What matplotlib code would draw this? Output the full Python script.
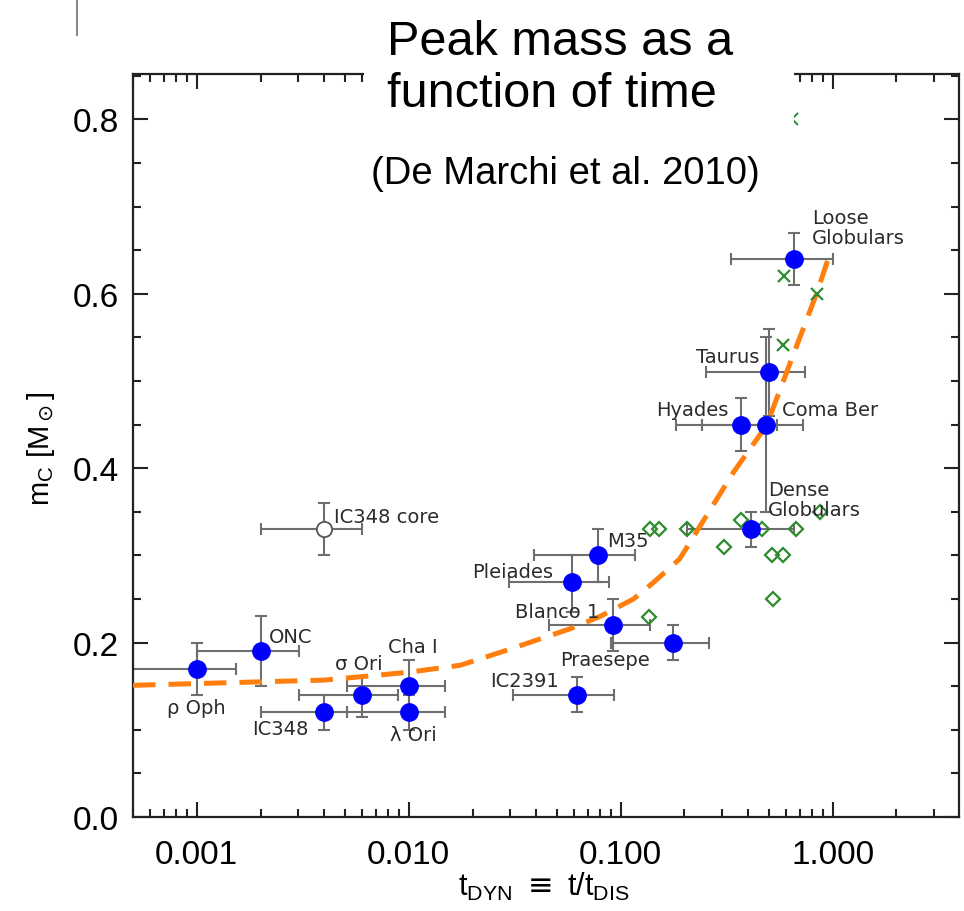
import matplotlib
matplotlib.use('Agg')
import matplotlib.pyplot as plt
import numpy as np
from matplotlib.ticker import LogLocator, MultipleLocator, FixedLocator, NullFormatter, FuncFormatter
from matplotlib.patches import Rectangle
from matplotlib.lines import Line2D

# ---------------- data ----------------
cluster_names = ['rho Oph', 'ONC', 'IC348', 'sigma Ori', 'Cha I', 'lambda Ori', 'IC2391',
                 'Pleiades', 'M35', 'Blanco 1', 'Praesepe', 'Hyades', 'Coma Ber', 'Taurus',
                 'Dense Globulars', 'Loose Globulars']
t_dyn = [0.001, 0.002, 0.004, 0.006, 0.010, 0.010, 0.062,
         0.059, 0.078, 0.092, 0.177, 0.37, 0.484, 0.50, 0.414, 0.66]
t_low = [0.0004, 0.001, 0.002, 0.00305, 0.0051, 0.0051, 0.031,
         0.0296, 0.039, 0.046, 0.090, 0.182, 0.241, 0.252, 0.205, 0.33]
t_high = [0.00153, 0.00305, 0.0051, 0.0089, 0.0149, 0.0149, 0.093,
          0.0885, 0.117, 0.137, 0.262, 0.547, 0.725, 0.74, 0.66, 1.0]
m_c = [0.17, 0.19, 0.12, 0.14, 0.15, 0.12, 0.14,
       0.27, 0.30, 0.22, 0.20, 0.45, 0.45, 0.51, 0.33, 0.64]
m_err_low = [0.03, 0.04, 0.02, 0.025, 0.03, 0.02, 0.02,
             0.035, 0.03, 0.03, 0.02, 0.03, 0.10, 0.05, 0.02, 0.03]
m_err_high = [0.03, 0.04, 0.02, 0.02, 0.03, 0.02, 0.02,
              0.03, 0.03, 0.03, 0.02, 0.03, 0.10, 0.05, 0.02, 0.03]

# IC348 core (open symbol)
core_t, core_t_low, core_t_high = 0.004, 0.002, 0.006
core_m, core_m_err = 0.33, 0.03

# green open diamonds
diam_t = [0.137, 0.152, 0.206, 0.371, 0.467, 0.67, 0.869, 0.307, 0.516, 0.584, 0.524, 0.136]
diam_m = [0.33, 0.33, 0.33, 0.34, 0.33, 0.33, 0.35, 0.31, 0.30, 0.30, 0.25, 0.229]

# green crosses
cross_t = [0.589, 0.845, 0.584]
cross_m = [0.62, 0.60, 0.541]
legend_cross_t, legend_cross_m = [0.642], [0.80]

# orange dashed model curve
curve_t = [0.0005, 0.001, 0.002, 0.004, 0.01, 0.0175, 0.028, 0.058, 0.08, 0.115,
           0.143, 0.19, 0.228, 0.34, 0.488, 0.65, 0.84, 0.99]
curve_m = [0.151, 0.153, 0.155, 0.157, 0.166, 0.174, 0.190, 0.216, 0.230, 0.250,
           0.269, 0.296, 0.327, 0.395, 0.449, 0.529, 0.600, 0.652]

x_ticks = [0.001, 0.01, 0.1, 1.0]
y_ticks = [0.0, 0.2, 0.4, 0.6, 0.8]

# label text and placement (data coords)
labels = [
    ('\u03c1 Oph', 0.00099, 0.126, 'center'),
    ('ONC', 0.00218, 0.2065, 'left'),
    ('IC348 core', 0.00442, 0.345, 'left'),
    ('\u03c3 Ori', 0.00451, 0.1755, 'left'),
    ('Cha I', 0.0080, 0.196, 'left'),
    ('IC348', 0.00182, 0.101, 'left'),
    ('\u03bb Ori', 0.0082, 0.095, 'left'),
    ('Pleiades', 0.0199, 0.282, 'left'),
    ('M35', 0.0863, 0.317, 'left'),
    ('Blanco 1', 0.0318, 0.236, 'left'),
    ('Praesepe', 0.0519, 0.181, 'left'),
    ('IC2391', 0.0243, 0.156, 'left'),
    ('Taurus', 0.226, 0.528, 'left'),
    ('Hyades', 0.147, 0.467, 'left'),
    ('Coma Ber', 0.575, 0.467, 'left'),
    ('Dense\nGlobulars', 0.494, 0.364, 'left'),
    ('Loose\nGlobulars', 0.798, 0.676, 'left'),
]

# ---------------- figure ----------------
W, H = 964, 912
fig = plt.figure(figsize=(W / 100, H / 100), dpi=100)
ax = fig.add_axes([133 / W, 1 - 818 / H, (959 - 133) / W, (818 - 75) / H])

ax.set_xscale('log')
ax.set_xlim(5.0e-4, 3.95)
ax.set_ylim(0.0, 0.852)

err_col = '#6e6e6e'
t = np.array(t_dyn)
xerr = [t - np.array(t_low), np.array(t_high) - t]
yerr = [m_err_low, m_err_high]
ax.errorbar(t_dyn, m_c, xerr=xerr, yerr=yerr, fmt='none', ecolor=err_col,
            elinewidth=1.5, capsize=4.2, capthick=1.5, zorder=2)
ax.errorbar([core_t], [core_m], xerr=[[core_t - core_t_low], [core_t_high - core_t]],
            yerr=[[core_m_err], [core_m_err]], fmt='none', ecolor=err_col,
            elinewidth=1.5, capsize=4.2, capthick=1.5, zorder=2)

ax.plot(curve_t, curve_m, color='#ff7f0e', lw=3.6, dashes=(4.5, 2.6),
        dash_capstyle='butt', zorder=3)

ax.plot(t_dyn, m_c, 'o', color='#0000ff', ms=12.5, mec='#0000ff', zorder=5)
ax.plot([core_t], [core_m], 'o', mfc='white', mec='#555555', ms=11, mew=1.3, zorder=5)

ax.plot(diam_t, diam_m, 'D', mfc='none', mec='#2e8b2e', ms=7.5, mew=1.6, zorder=4)
ax.plot(cross_t, cross_m, 'x', color='#2e8b2e', ms=9, mew=1.6, zorder=4)
ax.plot(legend_cross_t, legend_cross_m, 'x', color='#2e8b2e', ms=8, mew=1.4, zorder=4,
        clip_on=False)

for txt, lx, ly, ha in labels:
    ax.text(lx, ly, txt, ha=ha, va='center', fontsize=14, color='#2b2b2b',
            family='DejaVu Sans', linespacing=1.05, zorder=6)

# ticks
ax.xaxis.set_major_locator(FixedLocator(x_ticks))
ax.xaxis.set_minor_locator(LogLocator(base=10, subs=np.arange(2, 10), numticks=20))
ax.xaxis.set_major_formatter(FuncFormatter(lambda v, p: '%.3f' % v))
ax.xaxis.set_minor_formatter(NullFormatter())
ax.yaxis.set_major_locator(FixedLocator(y_ticks))
ax.yaxis.set_minor_locator(MultipleLocator(0.05))
ax.yaxis.set_major_formatter(FuncFormatter(lambda v, p: '%.1f' % v))

ax.tick_params(which='both', direction='in', top=True, right=True, color='#222222', width=1.5)
ax.tick_params(which='major', length=11)
ax.tick_params(which='minor', length=5.5)
ax.tick_params(axis='x', which='major', pad=16, labelsize=24)
ax.tick_params(axis='y', which='major', pad=10, labelsize=24)
for lab in ax.get_xticklabels() + ax.get_yticklabels():
    lab.set_family('Liberation Sans')
for sp in ax.spines.values():
    sp.set_color('#222222')
    sp.set_linewidth(1.6)

# axis labels
fig.text(41 / W, 1 - 449 / H, r'm$_\mathregular{C}$ [M$_\odot$]', rotation=90,
         ha='center', va='center', fontsize=21, family='Liberation Sans')
fig.text(544 / W, 1 - 887 / H,
         r'$\mathregular{t_{DYN}}$ $\equiv$ $\mathregular{t/t_{DIS}}$',
         ha='center', va='center', fontsize=22, family='Liberation Sans')

# white title box covering the top of the frame
fig.patches.append(Rectangle((364 / W, 1 - 200 / H), (794 - 364) / W, 200 / H,
                             transform=fig.transFigure, facecolor='white',
                             edgecolor='none', zorder=10))
fig.text(560 / W, 1 - 55 / H, 'Peak mass as a', ha='center', va='baseline',
         fontsize=35, family='Liberation Sans', zorder=11)
fig.text(552 / W, 1 - 107 / H, 'function of time', ha='center', va='baseline',
         fontsize=35, family='Liberation Sans', zorder=11)
fig.text(565 / W, 1 - 184 / H, '(De Marchi et al. 2010)', ha='center', va='baseline',
         fontsize=27.5, family='Liberation Sans', zorder=11)

# stray vertical line at the top-left corner
fig.lines.append(Line2D([77 / W, 77 / W], [1.0, 1 - 36 / H], transform=fig.transFigure,
                        color='#888888', lw=1.5))

fig.savefig('out.png', dpi=100)
